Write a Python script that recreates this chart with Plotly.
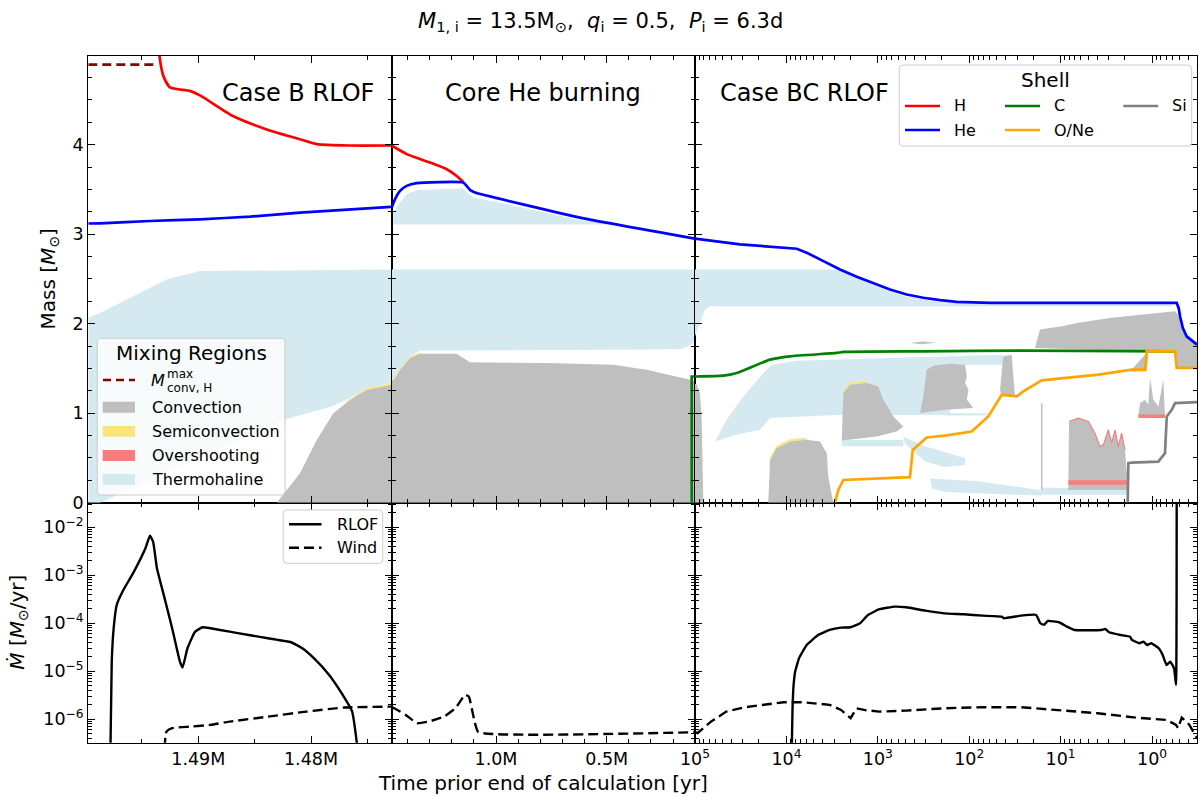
import plotly.graph_objects as go

# ====================== DATA ======================
# Time prior to end of calculation [yr], mass coordinate [Msun]

# ---- Shell boundaries: Case B RLOF panel ----
h_left_t = [1.4938e6, 1.49346e6, 1.49311e6, 1.49251e6, 1.49074e6, 1.48985e6, 1.48692e6,
            1.48393e6, 1.48098e6, 1.47949e6, 1.47654e6, 1.4729e6]
h_left_m = [5.5, 5.0, 4.77, 4.64, 4.60, 4.55, 4.32, 4.17, 4.06, 4.006, 3.99, 3.99]
he_left_t = [1.49976e6, 1.49872e6, 1.49429e6, 1.48985e6, 1.48541e6, 1.48098e6, 1.4729e6]
he_left_m = [3.119, 3.12, 3.147, 3.166, 3.196, 3.241, 3.304]
mconv_t = [1.49976e6, 1.49384e6]
mconv_m = [4.894, 4.894]

# ---- Shell boundaries: Core He burning panel ----
h_mid_t = [1.4711e6, 1.4034e6, 1.2981e6, 1.2227e6, 1.1775e6, 1.1477e6]
h_mid_m = [3.99, 3.894, 3.80, 3.725, 3.65, 3.583]
he_mid_t = [1.4711e6, 1.4562e6, 1.4336e6, 1.4034e6, 1.3582e6, 1.1477e6, 1.1174e6,
            1.0949e6, 0.6206e6, 0.1011e6]
he_mid_m = [3.297, 3.39, 3.483, 3.539, 3.569, 3.577, 3.494, 3.465, 3.185, 2.95]
c_mid_t = [1.16e5, 1.16e5, 1.011e5]
c_mid_m = [0.0, 1.41, 1.41]

# ---- Shell boundaries: Case BC RLOF panel ----
he_right_t = [1.0e5, 3.22e4, 7.71e3, 6.0e3, 3.94e3, 2.59e3, 1.70e3, 1.12e3, 736, 483, 318, 208,
              137, 59.2, 0.537, 0.51, 0.494, 0.46, 0.418, 0.322]
he_right_m = [2.95, 2.886, 2.837, 2.793, 2.699, 2.606, 2.524, 2.457, 2.382, 2.326, 2.289, 2.262,
              2.244, 2.233, 2.233, 2.17, 2.083, 1.95, 1.859, 1.766]
c_right_t = [1.0e5, 4.90e4, 3.50e4, 1.51e4, 9.14e3, 2.82e3, 2.38e3, 318, 25.6, 0.583]
c_right_m = [1.41, 1.419, 1.449, 1.598, 1.635, 1.673, 1.684, 1.691, 1.699, 1.691]
one_right_t = [2938, 2704, 2382, 445, 415, 292, 184, 94.0, 61.8, 44.1, 30.2, 25.6, 16.1, 8.24,
               3.86, 1.667, 1.194, 1.143, 0.560, 0.537, 0.322]
one_right_m = [0.0, 0.142, 0.254, 0.285, 0.59, 0.728, 0.75, 0.795, 0.963, 1.206, 1.187, 1.243,
               1.366, 1.393, 1.43, 1.486, 1.486, 1.691, 1.691, 1.505, 1.505]
si_right_t = [1.845, 1.816, 1.667, 0.853, 0.721, 0.690, 0.608, 0.560, 0.322]
si_right_m = [0.0, 0.441, 0.448, 0.459, 0.553, 0.963, 1.038, 1.113, 1.124]

# ---- Mixing regions (polygons) ----
th_left_t = [1.49976e6, 1.49872e6, 1.49579e6, 1.49280e6, 1.48985e6, 1.4729e6, 1.4729e6,
             1.47506e6, 1.47802e6, 1.48231e6, 1.49872e6, 1.49976e6]
th_left_m = [2.065, 2.12, 2.307, 2.494, 2.587, 2.606, 1.34, 1.27, 1.08, 0.93, 0.0, 0.0]
conv_left_t = [1.48304e6, 1.48098e6, 1.47949e6, 1.47802e6, 1.47654e6, 1.47506e6, 1.4729e6, 1.4729e6]
conv_left_m = [0.0, 0.33, 0.70, 1.0, 1.15, 1.262, 1.318, 0.0]
semi_left_t = [1.4772e6, 1.4750e6, 1.4729e6, 1.4729e6, 1.4750e6, 1.4772e6]
semi_left_m = [1.12, 1.278, 1.333, 1.318, 1.262, 1.11]

th_mid_t = [1.4711e6, 0.1011e6, 0.1011e6, 0.1237e6, 0.16e6, 0.30e6, 1.3433e6, 1.3885e6, 1.4336e6, 1.4711e6]
th_mid_m = [2.606, 2.606, 1.80, 1.76, 1.72, 1.71, 1.70, 1.63, 1.50, 1.345]
th_mid2_t = [1.4639e6, 1.4336e6, 1.4034e6, 1.3582e6, 1.1477e6, 1.1174e6, 1.0949e6, 0.6206e6, 0.4399e6, 1.4639e6]
th_mid2_m = [3.24, 3.353, 3.446, 3.494, 3.51, 3.435, 3.41, 3.155, 3.107, 3.107]
conv_mid_t = [1.4711e6, 1.4336e6, 1.3885e6, 1.3433e6, 1.1775e6, 1.1174e6, 0.7710e6, 0.4702e6,
              0.3193e6, 0.1237e6, 0.1011e6, 0.1011e6, 1.4711e6]
conv_mid_m = [1.337, 1.486, 1.617, 1.665, 1.665, 1.568, 1.561, 1.542, 1.486, 1.374, 1.35, 0.0, 0.0]
semi_mid_t = [1.4711e6, 1.4336e6, 1.3885e6, 1.3433e6, 1.3433e6, 1.3885e6, 1.4336e6, 1.4711e6]
semi_mid_m = [1.352, 1.501, 1.632, 1.677, 1.665, 1.617, 1.486, 1.337]

th_r1_t = [1.0e5, 2.59e3, 1.12e3, 483, 208, 59.2, 0.6, 0.6, 6.86e4, 7.78e4, 8.81e4, 1.0e5]
th_r1_m = [2.606, 2.606, 2.43, 2.30, 2.24, 2.215, 2.215, 2.195, 2.195, 2.158, 2.009, 1.86]
th_r2_t = [6.04e4, 4.50e4, 2.96e4, 1.95e4, 1.45e4, 7.71e3, 162, 42.4, 42.4, 162, 162, 2.82e3,
           1.51e4, 1.95e4, 3.50e4]
th_r2_m = [0.683, 0.926, 1.187, 1.404, 1.542, 1.587, 1.635, 1.654, 1.542, 1.542, 0.98, 0.98,
           0.945, 0.814, 0.758]
th_r3_t = [2.48e3, 526, 526, 2.48e3]
th_r3_m = [0.70, 0.70, 0.63, 0.63]
th_r4_t = [530, 305, 111, 111, 184, 305, 504]
th_r4_m = [0.739, 0.63, 0.50, 0.42, 0.40, 0.46, 0.66]
th_r5_t = [268, 184, 80.2, 16.4, 16.4, 59.2, 184, 255]
th_r5_m = [0.27, 0.26, 0.24, 0.14, 0.08, 0.10, 0.12, 0.16]
th_r6_t = [16.4, 1.88, 1.88, 16.4]
th_r6_m = [0.17, 0.15, 0.09, 0.09]
th_r7_t = [184, 62.2, 62.2, 184]
th_r7_m = [1.0, 1.0, 0.975, 0.975]

conv_r0_t = [1.0e5, 1.0e5, 9.58e4, 8.81e4, 8.45e4, 8.11e4]
conv_r0_m = [0.0, 1.33, 1.32, 1.22, 0.92, 0.0]
semi_a_t = [1.55e4, 1.51e4, 1.28e4, 9.14e3, 6.0e3, 6.0e3, 9.14e3, 1.28e4, 1.51e4]
semi_a_m = [0.35, 0.505, 0.636, 0.71, 0.725, 0.70, 0.683, 0.609, 0.478]
conv_a_t = [1.58e4, 1.51e4, 1.28e4, 9.14e3, 6.0e3, 4.29e3, 3.62e3, 3.48e3, 3.07e3]
conv_a_m = [0.0, 0.478, 0.609, 0.683, 0.702, 0.683, 0.553, 0.291, 0.0]
semi_b_t = [2.38e3, 2.01e3, 1.32e3, 1.32e3, 2.01e3, 2.38e3]
semi_b_m = [1.25, 1.343, 1.36, 1.337, 1.318, 1.225]
conv_b_t = [2.48e3, 2.38e3, 2.01e3, 1.32e3, 988, 871, 676, 526, 621, 1.03e3, 2.48e3]
conv_b_m = [0.702, 1.225, 1.318, 1.337, 1.299, 1.150, 0.963, 0.851, 0.795, 0.739, 0.694]
conv_c_t = [345, 318, 292, 247, 162, 111, 106, 111, 102, 106, 90.2, 184, 345]
conv_c_m = [1.001, 1.187, 1.486, 1.531, 1.553, 1.542, 1.411, 1.337, 1.262, 1.150, 1.057, 1.038, 1.001]
conv_d_t = [19.1, 16.8, 9.72, 6.40, 2.76, 1.194, 0.560, 0.520, 0.470, 0.414, 0.322, 0.322, 0.533, 0.547]
conv_d_m = [1.729, 1.934, 1.971, 2.009, 2.065, 2.102, 2.139, 2.10, 1.97, 1.86, 1.77, 1.505, 1.505, 1.68]
conv_e_t = [46.0, 42.4, 34.3, 33.0, 31.6, 44.1]
conv_e_m = [1.26, 1.635, 1.654, 1.449, 1.187, 1.187]
conv_w_t = [1.74, 1.194, 1.10, 1.143]
conv_w_m = [1.467, 1.654, 1.654, 1.467]
conv_f_t = [8.24, 8.09, 6.40, 4.98, 4.21, 3.71, 3.41, 3.01, 2.76, 2.54, 2.34, 2.15, 1.98, 1.82]
conv_f_m = [0.142, 0.907, 0.945, 0.907, 0.777, 0.627, 0.646, 0.814, 0.665, 0.814, 0.627, 0.777, 0.59, 0.142]
conv_g_t = [1.41, 1.35, 1.194, 1.10, 1.05, 0.968, 0.853, 0.752, 0.721]
conv_g_m = [0.98, 1.113, 1.15, 1.094, 1.393, 1.15, 1.075, 1.374, 0.963]
conv_s_t = [445, 330, 227, 330]
conv_s_m = [1.785, 1.80, 1.79, 1.77]
spike_t = [16.1, 16.1]
spike_m = [0.142, 1.11]
over_f_t = [8.24, 1.85, 1.85, 8.24]
over_f_m = [0.25, 0.25, 0.20, 0.20]
over_g_t = [1.41, 0.721, 0.721, 1.41]
over_g_m = [0.985, 0.985, 0.945, 0.945]

# ---- Mass-transfer rates [Msun/yr] ----
rlof_left_t = [1.49782e6, 1.49768e6, 1.49751e6, 1.49724e6, 1.49673e6, 1.49571e6, 1.49469e6,
               1.49429e6, 1.49401e6, 1.49367e6, 1.49299e6, 1.49232e6, 1.49163e6, 1.49140e6,
               1.49096e6, 1.49028e6, 1.48960e6, 1.48892e6, 1.48722e6, 1.48552e6, 1.48382e6,
               1.48178e6, 1.48077e6, 1.47975e6, 1.47839e6, 1.47737e6, 1.47635e6, 1.47568e6]
rlof_left = [1e-7, 1.58e-5, 7.87e-5, 2.40e-4, 4.55e-4, 1.19e-3, 3.65e-3, 6.68e-3, 5.01e-3,
             1.40e-3, 3.32e-4, 7.87e-5, 1.58e-5, 1.19e-5, 3.01e-5, 6.68e-5, 8.26e-5, 7.87e-5,
             6.68e-5, 5.70e-5, 4.86e-5, 4.02e-5, 3.01e-5, 1.87e-5, 8.38e-6, 3.76e-6, 1.44e-6, 1e-7]
wind_left_t = [1.49299e6, 1.49282e6, 1.49232e6, 1.49062e6, 1.48892e6, 1.48722e6, 1.48382e6,
               1.48042e6, 1.47704e6, 1.47284e6]
wind_left = [2.5e-7, 5.52e-7, 6.49e-7, 7.01e-7, 7.60e-7, 8.91e-7, 1.13e-6, 1.44e-6, 1.75e-6, 1.83e-6]
wind_mid_t = [1.4711e6, 1.4598e6, 1.4079e6, 1.3564e6, 1.3044e6, 1.2353e6, 1.1834e6, 1.1400e6,
              1.1229e6, 1.0967e6, 1.0795e6, 1.011e5]
wind_mid = [1.80e-6, 1.69e-6, 1.23e-6, 8.26e-7, 8.91e-7, 1.13e-6, 1.69e-6, 3.21e-6, 2.96e-6,
            8.91e-7, 5.36e-7, 5.36e-7]
rlof_right_t = [8810, 8570, 8395, 8017, 7278, 5998, 4498, 3365, 2523, 1982, 1560, 1282, 959, 653,
                489, 302, 187, 115, 71.1, 44.0, 41.9, 27.1, 18.5, 16.7, 15.2, 13.8, 10.4, 8.53,
                7.05, 3.59, 3.25, 2.95, 2.21, 1.74, 1.66, 1.37, 1.24, 1.13, 1.02, 0.845, 0.766,
                0.695, 0.632, 0.574, 0.546, 0.537]
rlof_right = [1e-7, 1.69e-6, 4.43e-6, 9.82e-6, 1.87e-5, 3.53e-5, 5.70e-5, 7.24e-5, 8.09e-5,
              8.26e-5, 1.0e-4, 1.49e-4, 1.96e-4, 2.22e-4, 2.15e-4, 1.83e-4, 1.61e-4, 1.54e-4,
              1.44e-4, 1.37e-4, 1.27e-4, 1.44e-4, 1.49e-4, 1.0e-4, 9.23e-5, 1.12e-4, 1.05e-4,
              8.49e-5, 7.24e-5, 7.24e-5, 7.60e-5, 6.49e-5, 5.70e-5, 5.26e-5, 4.49e-5, 3.83e-5,
              4.14e-5, 3.53e-5, 3.83e-5, 3.01e-5, 2.19e-5, 1.35e-5, 1.58e-5, 1.15e-5, 5.19e-6, 0.1]
wind_right_t = [1.0e5, 93760, 66830, 45500, 28120, 17340, 10720, 6622, 4955, 3365, 2523, 1982,
                1714, 1413, 959, 489, 187, 71.1, 27.1, 16.7, 10.4, 3.94, 1.50, 0.695, 0.546,
                0.519, 0.473, 0.390, 0.322]
wind_right = [5.36e-7, 5.11e-7, 8.91e-7, 1.44e-6, 1.78e-6, 1.99e-6, 2.26e-6, 2.26e-6, 2.15e-6,
              1.99e-6, 1.56e-6, 1.05e-6, 1.69e-6, 1.56e-6, 1.44e-6, 1.51e-6, 1.69e-6, 1.78e-6,
              1.78e-6, 1.64e-6, 1.56e-6, 1.33e-6, 1.08e-6, 9.66e-7, 7.60e-7, 6.49e-7, 1.08e-6,
              7.60e-7, 4.02e-7]

# ---- Tick labels ----
left_ticks = [1.49e6, 1.48e6]
left_ticktext = ["1.49M", "1.48M"]
mid_ticks = [1.0e6, 0.5e6]
mid_ticktext = ["1.0M", "0.5M"]
right_ticks = [1e5, 1e4, 1e3, 1e2, 1e1, 1e0]
right_ticktext = ["10<sup>5</sup>", "10<sup>4</sup>", "10<sup>3</sup>", "10<sup>2</sup>",
                  "10<sup>1</sup>", "10<sup>0</sup>"]
mdot_ticks = [1e-2, 1e-3, 1e-4, 1e-5, 1e-6]
mdot_ticktext = ["10<sup>−2</sup>", "10<sup>−3</sup>", "10<sup>−4</sup>", "10<sup>−5</sup>",
                 "10<sup>−6</sup>"]
mass_ticks = [0, 1, 2, 3, 4]

# ====================== STYLE ======================
W, H = 1200, 796
FONT = "DejaVu Sans"
C_CONV = "rgb(191,191,191)"
C_SEMI = "rgb(250,229,120)"
C_OVER = "rgb(248,126,126)"
C_THERM = "rgb(213,233,240)"
C_H, C_HE, C_C, C_ONE, C_SI = "#ff0000", "#0000ff", "#008000", "#ffa500", "#808080"
C_MCONV = "#8b0000"
LW = 2.7

AX = {'TL': ('x4', 'y4'), 'TM': ('x5', 'y5'), 'TR': ('x6', 'y6'),
      'BL': ('x', 'y'), 'BM': ('x2', 'y2'), 'BR': ('x3', 'y3')}

fig = go.Figure()


def region(t, m, panel, color):
    xa, ya = AX[panel]
    fig.add_trace(go.Scatter(x=t, y=m, xaxis=xa, yaxis=ya, mode='lines', fill='toself',
                             fillcolor=color, line=dict(width=0, color=color),
                             hoverinfo='skip', showlegend=False))


def curve(t, m, panel, color, width=LW, dash='solid', smooth=0.0):
    xa, ya = AX[panel]
    line = dict(width=width, color=color, dash=dash)
    if smooth > 0:
        line.update(shape='spline', smoothing=smooth)
    fig.add_trace(go.Scatter(x=t, y=m, xaxis=xa, yaxis=ya, mode='lines', line=line,
                             hoverinfo='skip', showlegend=False))


# --- top row: mixing regions ---
region(th_left_t, th_left_m, 'TL', C_THERM)
region(conv_left_t, conv_left_m, 'TL', C_CONV)
region(semi_left_t, semi_left_m, 'TL', C_SEMI)

region(th_mid_t, th_mid_m, 'TM', C_THERM)
region(th_mid2_t, th_mid2_m, 'TM', C_THERM)
region(conv_mid_t, conv_mid_m, 'TM', C_CONV)
region(semi_mid_t, semi_mid_m, 'TM', C_SEMI)

for tt, mm in [(th_r1_t, th_r1_m), (th_r2_t, th_r2_m), (th_r3_t, th_r3_m), (th_r4_t, th_r4_m),
               (th_r5_t, th_r5_m), (th_r6_t, th_r6_m), (th_r7_t, th_r7_m)]:
    region(tt, mm, 'TR', C_THERM)
region(semi_a_t, semi_a_m, 'TR', C_SEMI)
region(semi_b_t, semi_b_m, 'TR', C_SEMI)
for tt, mm in [(conv_r0_t, conv_r0_m), (conv_a_t, conv_a_m), (conv_b_t, conv_b_m),
               (conv_c_t, conv_c_m), (conv_d_t, conv_d_m), (conv_e_t, conv_e_m),
               (conv_w_t, conv_w_m), (conv_f_t, conv_f_m), (conv_g_t, conv_g_m),
               (conv_s_t, conv_s_m)]:
    region(tt, mm, 'TR', C_CONV)
curve(spike_t, spike_m, 'TR', C_CONV, width=1.5)
region(over_f_t, over_f_m, 'TR', C_OVER)
region(over_g_t, over_g_m, 'TR', C_OVER)
curve(conv_f_t[1:-1], conv_f_m[1:-1], 'TR', C_OVER, width=1.2)

# --- top row: shell boundaries ---
curve(mconv_t, mconv_m, 'TL', C_MCONV, dash='9px,5px')
curve(he_left_t, he_left_m, 'TL', C_HE, smooth=0.6)
curve(h_left_t, h_left_m, 'TL', C_H, smooth=0.6)
curve(h_mid_t, h_mid_m, 'TM', C_H, smooth=0.5)
curve(he_mid_t, he_mid_m, 'TM', C_HE, smooth=0.4)
curve(c_mid_t, c_mid_m, 'TM', C_C)
curve(he_right_t, he_right_m, 'TR', C_HE)
curve(c_right_t, c_right_m, 'TR', C_C, smooth=0.5)
curve(one_right_t, one_right_m, 'TR', C_ONE)
curve(si_right_t, si_right_m, 'TR', C_SI)

# --- bottom row: mass-transfer rates ---
DASH = '10px,5px'
curve(rlof_left_t, rlof_left, 'BL', 'black', width=2.4, smooth=0.4)
curve(wind_left_t, wind_left, 'BL', 'black', width=2.4, dash=DASH, smooth=0.5)
curve(wind_mid_t, wind_mid, 'BM', 'black', width=2.4, dash=DASH, smooth=0.4)
curve(rlof_right_t, rlof_right, 'BR', 'black', width=2.4, smooth=0.3)
curve(wind_right_t, wind_right, 'BR', 'black', width=2.4, dash=DASH)

# ====================== AXES ======================
xL = [88.3 / W, 391.7 / W]
xM = [391.7 / W, 695 / W]
xR = [695 / W, 1197 / W]
yT = [1 - 502.7 / H, 1 - 56 / H]
yB = [1 - 742.7 / H, 1 - 502.7 / H]

base = dict(showgrid=False, zeroline=False, showline=True, linecolor='black', linewidth=1.3,
            mirror='ticks', ticks='inside', ticklen=7, tickwidth=1.3, tickcolor='black',
            automargin=False, tickfont=dict(family=FONT, size=17.5, color='black'))
mnr = dict(ticks='inside', ticklen=4, tickwidth=1, tickcolor='black', showgrid=False)

rng_L = [1.49976e6, 1.47284e6]
rng_M = [1.4711e6, 1.011e5]
rng_R = [5, -0.492]

xl = dict(base, domain=xL, range=rng_L, tickmode='array', tickvals=left_ticks,
          ticktext=left_ticktext, minor=dict(mnr, tickmode='array', tickvals=[1.495e6, 1.485e6, 1.475e6]))
xm = dict(base, domain=xM, range=rng_M, tickmode='array', tickvals=mid_ticks,
          ticktext=mid_ticktext, minor=dict(mnr, tick0=0, dtick=1e5))
xr = dict(base, domain=xR, type='log', range=rng_R, tickmode='array', tickvals=right_ticks,
          ticktext=right_ticktext, minor=dict(mnr, dtick='D1'))

ylog = dict(base, type='log', domain=yB, range=[-6.49, -1.487], tickmode='array',
            tickvals=mdot_ticks, ticktext=mdot_ticktext, minor=dict(mnr, dtick='D1'))
ymass = dict(base, domain=yT, range=[0, 4.99], tickmode='array', tickvals=mass_ticks,
             minor=dict(mnr, tick0=0, dtick=0.25))

layout = dict(
    width=W, height=H, margin=dict(l=0, r=0, t=0, b=0),
    paper_bgcolor='white', plot_bgcolor='rgba(0,0,0,0)', showlegend=False,
    font=dict(family=FONT, color='black'),
    xaxis=dict(xl, anchor='y'), xaxis2=dict(xm, anchor='y2'), xaxis3=dict(xr, anchor='y3'),
    xaxis4=dict(xl, anchor='y4', showticklabels=False),
    xaxis5=dict(xm, anchor='y5', showticklabels=False),
    xaxis6=dict(xr, anchor='y6', showticklabels=False),
    yaxis=dict(ylog, anchor='x'), yaxis2=dict(ylog, anchor='x2', showticklabels=False),
    yaxis3=dict(ylog, anchor='x3', showticklabels=False),
    yaxis4=dict(ymass, anchor='x4'), yaxis5=dict(ymass, anchor='x5', showticklabels=False),
    yaxis6=dict(ymass, anchor='x6', showticklabels=False),
)
fig.update_layout(**layout)


# ====================== TEXT & LEGENDS ======================
def px(x):
    return x / W


def py(y):
    return 1 - y / H


def text(x, y, s, size=16, xanchor='left', angle=0):
    fig.add_annotation(x=px(x), y=py(y), xref='paper', yref='paper', text=s, showarrow=False,
                       xanchor=xanchor, yanchor='middle', textangle=angle,
                       font=dict(family=FONT, size=size, color='black'))


def box(x0, y0, x1, y1, r=4):
    def P(a, b):
        return f"{px(a):.5f},{py(b):.5f}"
    path = (f"M{P(x0 + r, y0)} L{P(x1 - r, y0)} Q{P(x1, y0)} {P(x1, y0 + r)} "
            f"L{P(x1, y1 - r)} Q{P(x1, y1)} {P(x1 - r, y1)} L{P(x0 + r, y1)} "
            f"Q{P(x0, y1)} {P(x0, y1 - r)} L{P(x0, y0 + r)} Q{P(x0, y0)} {P(x0 + r, y0)} Z")
    fig.add_shape(type='path', path=path, xref='paper', yref='paper', layer='above',
                  fillcolor='rgba(255,255,255,0.8)', line=dict(color='rgb(204,204,204)', width=1))


def legline(x0, x1, y, color, dash='solid', width=LW):
    fig.add_shape(type='line', xref='paper', yref='paper', x0=px(x0), x1=px(x1), y0=py(y), y1=py(y),
                  line=dict(color=color, width=width, dash=dash), layer='above')


def legpatch(x0, y0, x1, y1, color):
    fig.add_shape(type='rect', xref='paper', yref='paper', x0=px(x0), x1=px(x1), y0=py(y0), y1=py(y1),
                  fillcolor=color, line=dict(width=0), layer='above')


# Title and axis titles
text(600, 22, "<i>M</i><sub>1, i</sub> = 13.5M<sub>⊙</sub>,  <i>q</i><sub>i</sub> = 0.5,  "
              "<i>P</i><sub>i</sub> = 6.3d", size=21, xanchor='center')
text(298.3, 93.3, "Case B RLOF", size=24, xanchor='center')
text(543.3, 93.3, "Core He burning", size=24, xanchor='center')
text(805, 93.3, "Case BC RLOF", size=24, xanchor='center')
text(49, 279.4, "Mass [<i>M</i><sub>⊙</sub>]", size=20, xanchor='center', angle=-90)
text(18, 622.7, "<i>Ṁ</i> [<i>M</i><sub>⊙</sub>/yr]", size=20, xanchor='center', angle=-90)
text(542.5, 783, "Time prior end of calculation [yr]", size=20, xanchor='center')

# Mixing regions legend
box(97.3, 338.3, 285, 495)
text(191, 353, "Mixing Regions", size=20, xanchor='center')
legline(103, 135, 380, C_MCONV, dash='8px,5px')
text(149, 381, "<i>M</i>", size=16)
text(165, 374, "max", size=12)
text(165, 388, "conv, H", size=12)
legpatch(102.7, 401.7, 135, 412.7, C_CONV)
text(150, 407.3, "Convection")
legpatch(102.7, 426, 135, 436.7, C_SEMI)
text(150, 431.3, "Semiconvection")
legpatch(102.7, 450, 135, 461, C_OVER)
text(150, 455.7, "Overshooting")
legpatch(102.7, 474, 135, 485, C_THERM)
text(150, 480, "Thermohaline")

# Shell legend
box(899.3, 65, 1191.7, 146)
text(1045, 80, "Shell", size=20, xanchor='center')
legline(905, 940, 106, C_H)
text(951.7, 106, "H")
legline(905, 940, 130, C_HE)
text(951.7, 130, "He")
legline(1005, 1040, 106, C_C)
text(1052, 106, "C")
legline(1005, 1040, 130, C_ONE)
text(1052, 130, "O/Ne")
legline(1123.3, 1158.3, 106, C_SI)
text(1170, 106, "Si")

# Mass-transfer legend
box(283.2, 510, 382.7, 563.3)
legline(289, 321.5, 524.3, 'black', width=2.4)
text(334.9, 524.3, "RLOF")
legline(289, 321.5, 547.7, 'black', dash='10px,5px', width=2.4)
text(334.9, 547.7, "Wind")

fig.write_html("out.html", config={'displayModeBar': False},
               post_script="document.body.style.margin='0px';"
                           "document.body.style.overflow='hidden';")
